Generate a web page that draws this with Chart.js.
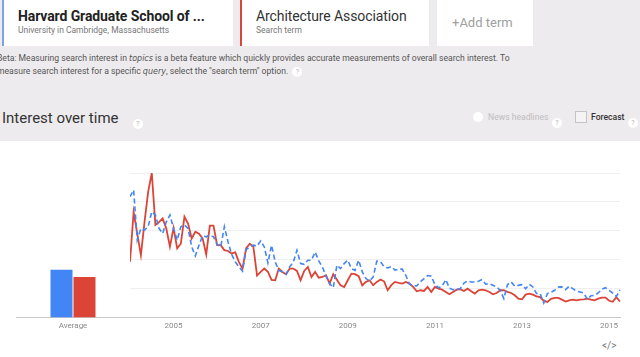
<!DOCTYPE html>
<html>
<head>
<meta charset="utf-8">
<script src="https://cdn.jsdelivr.net/npm/chart.js@4"></script>
<style>
  html,body{margin:0;padding:0;background:#fff;}
  body{width:640px;height:357px;position:relative;overflow:hidden;font-family:Roboto,"Noto Sans",Arial,sans-serif;}
  .panel{position:absolute;left:0;top:0;width:640px;height:141px;background:#eeebee;}
  .card{position:absolute;top:0;height:46px;background:#fff;box-sizing:border-box;}
  .t1{position:absolute;left:14px;top:8px;font-size:14px;font-weight:bold;color:#222;white-space:nowrap;letter-spacing:-0.1px;}
  .t2{position:absolute;left:14px;top:25px;font-size:8.5px;color:#777;white-space:nowrap;}
  .beta{position:absolute;left:-3px;font-size:8.6px;color:#555;white-space:nowrap;}
  .beta i{font-family:"DejaVu Sans",sans-serif;font-size:8px;font-style:italic;}
  .q{display:inline-block;width:10px;height:10px;border-radius:50%;background:#fff;color:#b5b5b5;font-size:7px;line-height:10px;text-align:center;vertical-align:middle;}
  .abs{position:absolute;white-space:nowrap;}
  canvas{position:absolute;}
</style>
</head>
<body>
<div class="panel"></div>
<div class="card" style="left:2px;width:231px;border-left:2px solid #7da4e0;">
  <div class="t1">Harvard Graduate School of ...</div>
  <div class="t2">University in Cambridge, Massachusetts</div>
</div>
<div class="card" style="left:240px;width:189px;border-left:2px solid #d9463b;">
  <div class="t1" style="font-weight:normal;color:#333;">Architecture Association</div>
  <div class="t2">Search term</div>
</div>
<div class="card" style="left:437px;width:96px;">
  <div class="abs" style="left:15px;top:15px;font-size:13px;color:#a0a0a0;">+Add term</div>
</div>
<div class="beta" style="top:53px;">Beta: Measuring search interest in <i>topics</i> is a beta feature which quickly provides accurate measurements of overall search interest. To</div>
<div class="beta" style="top:66px;">measure search interest for a specific <i>query</i>, select the "search term" option. &nbsp;<span class="q">?</span></div>
<div class="abs" style="left:2px;top:109px;font-size:15px;color:#333;">Interest over time</div>
<div class="abs" style="left:133px;top:113px;"><span class="q">?</span></div>
<div class="abs" style="left:473px;top:112px;width:10px;height:10px;border-radius:50%;background:#fff;"></div>
<div class="abs" style="left:488px;top:112px;font-size:8.6px;color:#bdbdbd;">News headlines</div>
<div class="abs" style="left:552px;top:112px;"><span class="q">?</span></div>
<div class="abs" style="left:575px;top:111px;width:10px;height:10px;border:1px solid #c4c4c4;background:#f4f4f4;"></div>
<div class="abs" style="left:591px;top:112px;font-size:8.6px;color:#333;font-weight:500;">Forecast</div>
<div class="abs" style="left:628px;top:112px;"><span class="q">?</span></div>
<div class="abs" style="left:602px;top:340px;font-size:10px;color:#777;">&lt;/&gt;</div>

<canvas id="avg" width="130" height="185" style="left:0;top:160px;width:130px;height:185px;"></canvas>
<canvas id="line" width="510" height="185" style="left:130px;top:160px;width:510px;height:185px;"></canvas>

<script>
// ---- data ----
const avgCategories = ['Average'];
const harvardAvg = [33];
const aaAvg = [28];

const startYear = 2004;
const monthCount = 136; // Jan 2004 .. Apr 2015
const months = [];
for (let i = 0; i < monthCount; i++) {
  const y = startYear + Math.floor(i / 12);
  const m = (i % 12) + 1;
  months.push(y + '-' + (m < 10 ? '0' + m : m));
}
const yearTickLabels = ['2005', '2007', '2009', '2011', '2013', '2015'];

const harvard = [
  83.6, 88.2, 53.5, 61.6, 60.5, 62.8, 73.2, 70.9, 61.6, 58.1, 66.2, 70.9,
  61.6, 53.5, 62.8, 64, 61.6, 48.9, 42.6, 50, 56.5, 55.8, 57, 55.8,
  50.5, 48.9, 62.8, 52.4, 43.6, 38.5, 35, 32, 47, 48.8, 50, 49.3,
  53, 48.8, 37.7, 50, 38.4, 32.6, 31.5, 29.9, 35, 38.4, 46.5, 37.3,
  36.8, 39.6, 39.6, 45.3, 39.1, 35, 28.5, 23.4, 20.6, 36.1, 33.8, 37.3,
  39.6, 33.8, 32.6, 39.6, 31.5, 26.9, 25.2, 28, 39, 38.6, 35.1, 34.2,
  35.2, 32.8, 33.4, 33.4, 29, 23, 22, 21.8, 24.7, 26.8, 29, 28.5,
  22.8, 20.5, 21.6, 26.2, 20.2, 19.2, 19.3, 19.9, 23.7, 25.3, 24.5, 24.5,
  25.1, 26.2, 23, 23.4, 22.2, 21.1, 18.8, 13, 22.7, 24.6, 21.6, 22.2,
  22.7, 19.9, 22.9, 21.1, 16.5, 16.5, 10, 16.5, 17.4, 18.8, 21, 21.1,
  19.2, 21.6, 19.9, 18.3, 17.6, 16.9, 12.5, 15, 15.3, 16.9, 19.5, 20.6,
  18.8, 16.9, 14.5, 19
];
const archAssoc = [
  38.5, 73, 58, 43, 66, 87, 100, 64, 66, 68.5, 61.6, 49,
  62, 47.8, 51, 69.7, 65, 54.7, 59.3, 58, 54.7, 43.6, 63.5, 63.5,
  50, 50, 46.6, 46, 44.3, 45, 38.5, 33.8, 48, 51, 48.8, 29,
  31.5, 33.8, 31.5, 26, 25.7, 33.8, 31.5, 29.9, 33.8, 33.8, 32.2, 25.7,
  32.2, 35, 28, 31.5, 27.5, 28, 29.2, 23.4, 29.9, 26, 22.2, 21,
  25.7, 30.3, 29.9, 28.5, 22.2, 24.6, 25.7, 22.3, 24.6, 26.2, 25, 18.8,
  22.3, 24.6, 23.9, 23.4, 24.6, 23.4, 21.1, 18.1, 18.8, 18.3, 21.1, 17.6,
  21.1, 19.9, 19.2, 17.6, 16, 17.6, 19.2, 19.5, 18.3, 19.9, 18.1, 16.5,
  18.8, 19.2, 18.8, 17.6, 16, 16.9, 18.8, 18.8, 17.6, 16.9, 15.3, 13,
  12.5, 15.8, 16.5, 15.8, 14.6, 14.1, 11.4, 10.7, 12.8, 13.5, 13.5, 12.3,
  11, 11.8, 12.3, 11.8, 12.3, 12.5, 13, 12.3, 11.8, 13, 13.7, 13.7,
  11.5, 10.8, 14, 11
];

const BLUE = '#4285f4';
const RED = '#db4437';
const tickFont = { family: 'Roboto, Arial, sans-serif', size: 8 };
const tickColor = '#8a8a8a';
const baseColor = '#c8c8c8';

Chart.defaults.animation = false;
Chart.defaults.responsive = false;

new Chart(document.getElementById('avg'), {
  type: 'bar',
  data: {
    labels: avgCategories,
    datasets: [
      { data: harvardAvg, backgroundColor: BLUE, categoryPercentage: 0.4035, barPercentage: 0.957 },
      { data: aaAvg, backgroundColor: RED, categoryPercentage: 0.4035, barPercentage: 0.957 }
    ]
  },
  options: {
    layout: { padding: { left: 16, right: 0, top: 13, bottom: 10 } },
    plugins: { legend: { display: false }, tooltip: { enabled: false } },
    scales: {
      x: {
        grid: { display: false, drawTicks: false },
        border: { display: true, color: baseColor, width: 1 },
        ticks: { font: tickFont, color: tickColor, padding: 4 }
      },
      y: {
        display: false, min: 0, max: 100
      }
    }
  }
});

new Chart(document.getElementById('line'), {
  type: 'line',
  data: {
    labels: months,
    datasets: [
      { data: harvard, borderColor: BLUE, borderWidth: 1.6, borderDash: [5, 3], pointRadius: 0, tension: 0, fill: false },
      { data: archAssoc, borderColor: RED, borderWidth: 1.8, pointRadius: 0, tension: 0, fill: false }
    ]
  },
  options: {
    layout: { padding: { left: 0, right: 20, top: 13, bottom: 10 } },
    plugins: { legend: { display: false }, tooltip: { enabled: false } },
    scales: {
      x: {
        offset: false,
        grid: { display: false, drawTicks: false },
        border: { display: true, color: baseColor, width: 1 },
        ticks: {
          font: tickFont, color: tickColor, padding: 4, autoSkip: false, maxRotation: 0,
          callback: function (v, i) {
            const lab = months[i];
            const yr = lab.slice(0, 4);
            return (lab.endsWith('-01') && yearTickLabels.includes(yr)) ? yr : null;
          }
        }
      },
      y: {
        min: 0, max: 100,
        ticks: { display: false, stepSize: 20 },
        grid: { color: '#efefef', drawTicks: false, lineWidth: 1 },
        border: { display: false }
      }
    }
  }
});
</script>
</body>
</html>
